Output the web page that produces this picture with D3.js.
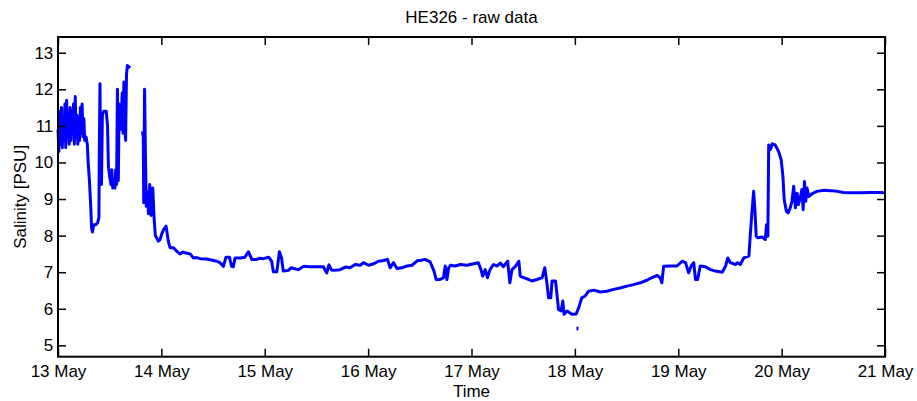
<!DOCTYPE html>
<html>
<head>
<meta charset="utf-8">
<script src="https://cdn.jsdelivr.net/npm/d3@7"></script>
<style>
body { margin: 0; background: #fff; }
text { font-family: "Liberation Sans", Arial, sans-serif; fill: #000; }
</style>
</head>
<body>
<script>
// hours since 13 May 00:00 and salinity (PSU)
var hours = [
  0.0, 0.2, 0.4, 0.6, 0.8, 1.0, 1.2, 1.4, 1.6, 1.8, 2.0, 2.2, 2.4, 2.6, 2.8, 3.0,
  3.2, 3.4, 3.6, 3.8, 4.0, 4.2, 4.4, 4.6, 4.8, 5.0, 5.2, 5.4, 5.6, 5.8, 6.0, 6.2,
  6.5, 6.8, 7.0, 7.3, 7.6, 7.8, 8.0, 8.3, 8.8, 9.2, 9.5, 9.6, 9.75, 9.9, 10.1, 10.3,
  10.6, 11.2, 11.5, 11.7, 12.0, 12.3, 12.5, 12.7, 13.0, 13.2, 13.4, 13.6, 13.8, 14.0,
  14.2, 14.4, 14.7, 14.9, 15.1, 15.3, 15.5, 15.7, 15.9, 16.1, 16.4, 16.7,
  18.0,
  19.6, 19.8, 19.9, 20.1, 20.3, 20.5, 20.8, 21.0, 21.3, 21.6, 22.0, 22.3, 22.6, 22.9,
  23.3, 23.7, 24.1, 24.5, 25.1, 25.6, 26.0, 26.8, 27.2, 27.6, 28.3, 29.0, 29.5, 30.7,
  31.4, 32.2, 33.0, 34.5, 35.3, 36.1, 36.9, 37.6, 38.1, 38.4, 39.0, 39.8, 40.3, 40.7,
  41.1, 42.3, 43.4, 44.2, 45.0, 46.1, 46.9, 47.7, 48.9, 49.6, 50.0, 50.8, 51.4, 51.9,
  52.3, 53.5, 54.1, 54.7, 55.8, 57.0, 58.5, 60.1, 61.6, 62.4, 62.9, 63.5, 64.0, 65.5,
  66.7, 67.8, 69.0, 70.2, 70.9, 72.1, 73.3, 74.4, 75.6, 76.5, 77.1, 77.9, 78.7, 79.8,
  81.0, 82.2, 82.9, 83.5, 84.1, 85.2, 86.4, 87.3, 87.8, 88.7, 89.5, 89.9, 90.3, 90.7,
  91.1, 92.2, 93.4, 94.9, 96.5, 97.6, 98.2, 98.6, 99.2, 99.7, 100.3, 101.1, 101.9, 102.7,
  103.4, 103.8, 104.4, 104.9, 105.4, 106.2, 107.0, 107.3, 108.1, 109.3, 110.0, 111.2, 112.4, 113.0,
  113.5, 113.9, 114.4, 114.7, 115.5, 115.8, 116.2, 116.8, 117.2, 117.5, 118.2, 119.3, 120.3, 120.9,
  121.6, 122.4, 123.2, 124.4, 125.9, 127.4, 129.0, 130.5, 132.1, 133.6, 135.2, 136.7, 137.9, 139.1,
  139.8, 140.2, 140.6, 142.2, 143.7, 144.9, 145.7, 146.4, 147.0, 147.6, 148.0, 148.5, 149.1, 150.3,
  151.5, 152.6, 154.2, 155.0, 155.5, 156.1, 157.3, 157.8, 158.4, 159.2, 160.4, 160.7, 161.1, 161.5,
  161.8, 162.1, 162.5, 163.5, 164.2, 164.5, 164.8, 165.0, 165.4, 165.8, 166.5, 167.3, 167.9, 168.3,
  168.6, 169.1, 169.5, 170.0, 170.4, 170.8, 171.2, 171.6, 171.9, 172.4, 172.7, 173.0, 173.3, 173.6,
  173.9, 174.3, 175.1, 176.2, 177.8, 179.3, 180.9, 182.4, 184.0, 186.3, 188.6, 190.5, 192.0
];
var salinity = [
  10.9, 10.3, 11.4, 10.5, 11.5, 10.4, 11.2, 10.6, 11.6, 10.4, 11.7, 10.7, 11.3, 10.5, 11.5, 10.6,
  11.4, 10.8, 11.6, 10.5, 11.8, 10.7, 11.3, 10.5, 11.2, 10.6, 11.5, 10.8, 11.6, 10.7, 11.2, 10.6,
  10.7, 10.5, 10.0, 9.5, 8.8, 8.2, 8.1, 8.3, 8.3, 8.35, 8.5, 10.5, 12.15, 9.5, 9.4, 11.3,
  11.4, 11.4, 11.0, 9.9, 9.6, 9.4, 9.8, 9.3, 9.5, 9.3, 9.8, 9.4, 12.0, 9.5,
  11.6, 10.9, 11.2, 11.9, 10.8, 12.2, 11.0, 10.6, 12.4, 12.65, 12.6, 12.65,
  NaN,
  10.85, 10.7, 8.9, 12.0, 10.2, 8.8, 9.2, 8.6, 9.4, 8.55, 9.3, 8.5, 8.0, 7.94,
  7.85, 7.89, 8.05, 8.16, 8.26, 7.85, 7.67, 7.67, 7.62, 7.57, 7.50, 7.55, 7.53, 7.50,
  7.39, 7.40, 7.37, 7.36, 7.34, 7.32, 7.30, 7.26, 7.20, 7.16, 7.41, 7.41, 7.16, 7.15,
  7.39, 7.39, 7.41, 7.56, 7.35, 7.35, 7.38, 7.37, 7.41, 7.30, 7.01, 7.01, 7.56, 7.39,
  7.03, 7.05, 7.12, 7.10, 7.07, 7.16, 7.15, 7.15, 7.15, 6.98, 7.20, 7.06, 7.05, 7.07,
  7.14, 7.12, 7.21, 7.19, 7.26, 7.19, 7.23, 7.30, 7.32, 7.35, 7.12, 7.26, 7.10, 7.12,
  7.17, 7.19, 7.26, 7.32, 7.32, 7.35, 7.28, 7.03, 6.80, 6.80, 6.85, 7.17, 6.80, 7.12,
  7.19, 7.17, 7.21, 7.19, 7.23, 7.26, 7.07, 6.89, 7.07, 6.85, 7.07, 7.21, 7.17, 7.25,
  7.15, 7.21, 7.30, 6.71, 7.07, 7.16, 7.30, 6.89, 6.85, 6.80, 6.76, 6.80, 6.85, 7.12,
  6.71, 6.30, 6.30, 6.76, 6.76, 6.44, 5.98, 5.94, 6.21, 5.85, 5.94, 5.85, 5.86, 6.03,
  6.30, 6.35, 6.48, 6.51, 6.46, 6.48, 6.53, 6.57, 6.62, 6.66, 6.71, 6.78, 6.85, 6.91,
  6.85, 6.71, 7.16, 7.17, 7.17, 7.30, 7.26, 6.98, 7.17, 7.26, 6.80, 6.80, 7.17, 7.15,
  7.07, 7.03, 7.00, 7.17, 7.39, 7.26, 7.21, 7.26, 7.21, 7.39, 7.44, 7.98, 8.62, 9.21,
  8.71, 7.98, 7.94, 7.96, 7.89, 8.30, 7.98, 10.48, 10.35, 10.51, 10.48, 10.30, 10.07, 9.62,
  8.98, 8.67, 8.62, 8.76, 8.94, 9.35, 8.76, 9.16, 8.85, 9.07, 9.26, 8.71, 9.48, 8.94,
  9.30, 9.07, 9.15, 9.21, 9.24, 9.23, 9.21, 9.18, 9.17, 9.17, 9.18, 9.18, 9.17
];
// single stray reading near 18 May
var strayHours = [120.6, 120.6];
var straySalinity = [5.41, 5.51];

var yTicks = [5, 6, 7, 8, 9, 10, 11, 12, 13];

var margin = {top: 37, right: 32, bottom: 44.3, left: 58};
var width = 917 - margin.left - margin.right;
var height = 401 - margin.top - margin.bottom;

var t0 = new Date(2009, 4, 13);
var t1 = new Date(2009, 4, 21);
function toDate(h) { return new Date(t0.getTime() + h * 3600e3); }

var svg = d3.select("body").append("svg")
    .attr("width", 917)
    .attr("height", 401)
    .append("g")
    .attr("transform", "translate(" + margin.left + "," + margin.top + ")");

var x = d3.scaleTime().domain([t0, t1]).range([0, width]);
var y = d3.scaleLinear().domain([4.69, 13.43]).range([height, 0]);

var data = hours.map(function (h, i) { return {t: toDate(h), s: salinity[i]}; });
var stray = strayHours.map(function (h, i) { return {t: toDate(h), s: straySalinity[i]}; });

var line = d3.line()
    .defined(function (d) { return !isNaN(d.s); })
    .x(function (d) { return x(d.t); })
    .y(function (d) { return y(d.s); });

svg.append("path")
    .datum(data)
    .attr("d", line)
    .attr("fill", "none")
    .attr("stroke", "#0000ff")
    .attr("stroke-width", 3)
    .attr("stroke-linejoin", "round");

svg.append("path")
    .datum(stray)
    .attr("d", line)
    .attr("fill", "none")
    .attr("stroke", "#0000ff")
    .attr("stroke-width", 2);

// axes, ticks pointing inwards on all four sides
var fmt = d3.timeFormat("%-d May");
var xTicks = d3.timeDay.range(t0, d3.timeDay.offset(t1, 1));

function styleAxis(g) {
    g.select(".domain").remove();
    g.selectAll(".tick line").attr("stroke", "#000").attr("stroke-width", 1.5);
    g.selectAll(".tick text").style("font-size", "17px").style("font-family", "Liberation Sans, Arial, sans-serif");
}

svg.append("g")
    .attr("transform", "translate(0," + height + ")")
    .call(d3.axisBottom(x).tickValues(xTicks).tickFormat(fmt).tickSizeInner(-8).tickSizeOuter(0).tickPadding(8.5))
    .call(styleAxis);

svg.append("g")
    .call(d3.axisTop(x).tickValues(xTicks).tickFormat("").tickSizeInner(-8).tickSizeOuter(0))
    .call(styleAxis);

svg.append("g")
    .call(d3.axisLeft(y).tickValues(yTicks).tickSizeInner(-8).tickSizeOuter(0).tickPadding(4.7))
    .call(styleAxis);

svg.append("g")
    .attr("transform", "translate(" + width + ",0)")
    .call(d3.axisRight(y).tickValues(yTicks).tickFormat("").tickSizeInner(-8).tickSizeOuter(0))
    .call(styleAxis);

svg.append("rect")
    .attr("width", width)
    .attr("height", height)
    .attr("fill", "none")
    .attr("stroke", "#000")
    .attr("stroke-width", 2);

// labels
svg.append("text")
    .attr("x", width / 2)
    .attr("y", -14)
    .attr("text-anchor", "middle")
    .style("font-size", "17px")
    .text("HE326 - raw data");

svg.append("text")
    .attr("x", width / 2)
    .attr("y", height + 40)
    .attr("text-anchor", "middle")
    .style("font-size", "17px")
    .text("Time");

svg.append("text")
    .attr("transform", "translate(-32," + (height / 2) + ") rotate(-90)")
    .attr("text-anchor", "middle")
    .style("font-size", "17px")
    .text("Salinity [PSU]");
</script>
</body>
</html>
